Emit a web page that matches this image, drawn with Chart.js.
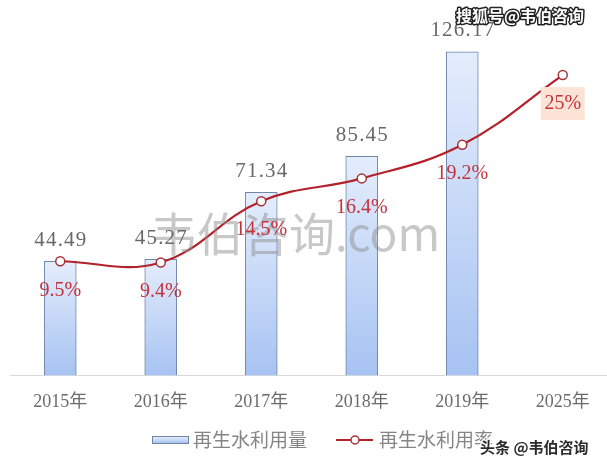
<!DOCTYPE html>
<html><head><meta charset="utf-8">
<script src="https://cdn.jsdelivr.net/npm/chart.js@4.4.1/dist/chart.umd.min.js"></script>
<style>html,body{margin:0;padding:0;background:#fff;overflow:hidden;}#wrap{width:607px;height:468px;position:relative;overflow:hidden;}#c{position:absolute;left:0;top:0;width:613px;height:468px;}</style>
</head><body><div id="wrap"><canvas id="c" width="613" height="468"></canvas></div>
<script>
const categories = ['2015年', '2016年', '2017年', '2018年', '2019年', '2025年'];
const reuseVolume = [44.49, 45.27, 71.34, 85.45, 126.17, null];
const reuseRate = [9.5, 9.4, 14.5, 16.4, 19.2, 25];
const volumeLabels = ['44.49', '45.27', '71.34', '85.45', '126.17', ''];
const rateLabels = ['9.5%', '9.4%', '14.5%', '16.4%', '19.2%', '25%'];
const seriesNames = ['再生水利用量', '再生水利用率'];

const SERIF = '"Liberation Serif", "Noto Sans CJK SC", serif';
const CJK = '"Noto Sans CJK SC", sans-serif';

function barGradient(ctx) {
  const chart = ctx.chart;
  const area = chart.chartArea;
  if (!area || ctx.raw == null) return '#c5d8f7';
  const top = chart.scales.y.getPixelForValue(ctx.raw);
  const g = chart.ctx.createLinearGradient(0, top, 0, area.bottom);
  g.addColorStop(0, '#e4edfc');
  g.addColorStop(1, '#a7c3f2');
  return g;
}

const labelPlugin = {
  id: 'labels',
  afterDatasetsDraw(chart) {
    const c = chart.ctx;
    c.save();
    c.font = '46px ' + CJK;
    c.fillStyle = 'rgba(140,140,140,0.48)';
    c.textAlign = 'left';
    c.textBaseline = 'middle';
    c.fillText('韦伯咨询.com', 151, 234);
    c.restore();

    const barMeta = chart.getDatasetMeta(1);
    const lineMeta = chart.getDatasetMeta(0);
    c.save();
    c.textAlign = 'center';
    c.textBaseline = 'middle';
    c.font = '21px ' + SERIF;
    c.fillStyle = '#686868';
    try { c.letterSpacing = '1.2px'; } catch (e) {}
    barMeta.data.forEach((el, i) => {
      if (reuseVolume[i] == null) return;
      c.fillText(volumeLabels[i], el.x + 0.6, el.y - 21);
    });
    try { c.letterSpacing = '0px'; } catch (e) {}
    c.font = '20px ' + SERIF;
    lineMeta.data.forEach((el, i) => {
      const y = el.y + 29;
      if (i === reuseRate.length - 1) {
        c.fillStyle = '#fbe4d6';
        c.fillRect(el.x - 22, y - 17, 44, 33);
      }
      c.fillStyle = '#c4323c';
      c.fillText(rateLabels[i], el.x, y);
    });
    c.restore();
  },
  afterDraw(chart) {
    const c = chart.ctx;
    c.save();
    const ly = 440;
    const g = c.createLinearGradient(0, ly - 3, 0, ly + 3);
    g.addColorStop(0, '#e4edfc'); g.addColorStop(1, '#a7c3f2');
    c.fillStyle = g;
    c.fillRect(152, ly - 3, 37, 6);
    c.strokeStyle = '#6f86a8'; c.lineWidth = 1;
    c.strokeRect(152.5, ly - 3.5, 36, 7);
    c.font = '19px ' + CJK;
    c.fillStyle = '#858585';
    c.textAlign = 'left';
    c.textBaseline = 'middle';
    c.fillText(seriesNames[0], 193, ly);
    c.strokeStyle = '#b3222b'; c.lineWidth = 2.2;
    c.beginPath(); c.moveTo(336, ly); c.lineTo(373, ly); c.stroke();
    c.beginPath(); c.arc(355, ly, 4, 0, Math.PI * 2);
    c.fillStyle = '#fff'; c.fill();
    c.lineWidth = 1.5; c.strokeStyle = '#a8323a'; c.stroke();
    c.fillStyle = '#858585';
    c.fillText(seriesNames[1], 379, ly);

    c.font = 'bold 16px ' + CJK;
    c.textBaseline = 'middle';
    c.lineJoin = 'round';
    c.lineWidth = 3; c.strokeStyle = '#222';
    c.strokeText('搜狐号@韦伯咨询', 456, 16);
    c.fillStyle = '#fff';
    c.fillText('搜狐号@韦伯咨询', 456, 16);

    c.font = 'bold 15px ' + CJK;
    c.lineWidth = 3; c.strokeStyle = 'rgba(255,255,255,0.9)';
    c.strokeText('头条 @韦伯咨询', 480, 447);
    c.fillStyle = '#2b2b2b';
    c.fillText('头条 @韦伯咨询', 480, 447);
    c.restore();
  }
};

new Chart(document.getElementById('c'), {
  data: {
    labels: categories,
    datasets: [
      {
        type: 'line', label: seriesNames[1], data: reuseRate, yAxisID: 'y1', order: 0,
        borderColor: '#b3222b', borderWidth: 2.2, tension: 0.4,
        pointRadius: 4.5, pointBackgroundColor: '#ffffff', pointBorderColor: '#a8323a', pointBorderWidth: 1.5
      },
      {
        type: 'bar', label: seriesNames[0], data: reuseVolume, yAxisID: 'y', order: 1,
        backgroundColor: barGradient, borderColor: '#6f86a8', borderWidth: 1, barThickness: 32
      }
    ]
  },
  options: {
    responsive: false,
    animation: false,
    layout: { autoPadding: false, padding: { left: 10, right: 0, top: 15, bottom: 39 } },
    plugins: { legend: { display: false }, tooltip: { enabled: false } },
    scales: {
      x: {
        grid: { display: false, drawTicks: false },
        border: { display: true, color: '#d9d9d9', width: 1 },
        ticks: { padding: 16, color: '#6b6b6b', font: { family: SERIF, size: 18 } }
      },
      y: { display: false, min: 0, max: 140.5 },
      y1: { display: false, min: 0, max: 30, position: 'right' }
    }
  },
  plugins: [labelPlugin]
});
</script>
</body></html>
